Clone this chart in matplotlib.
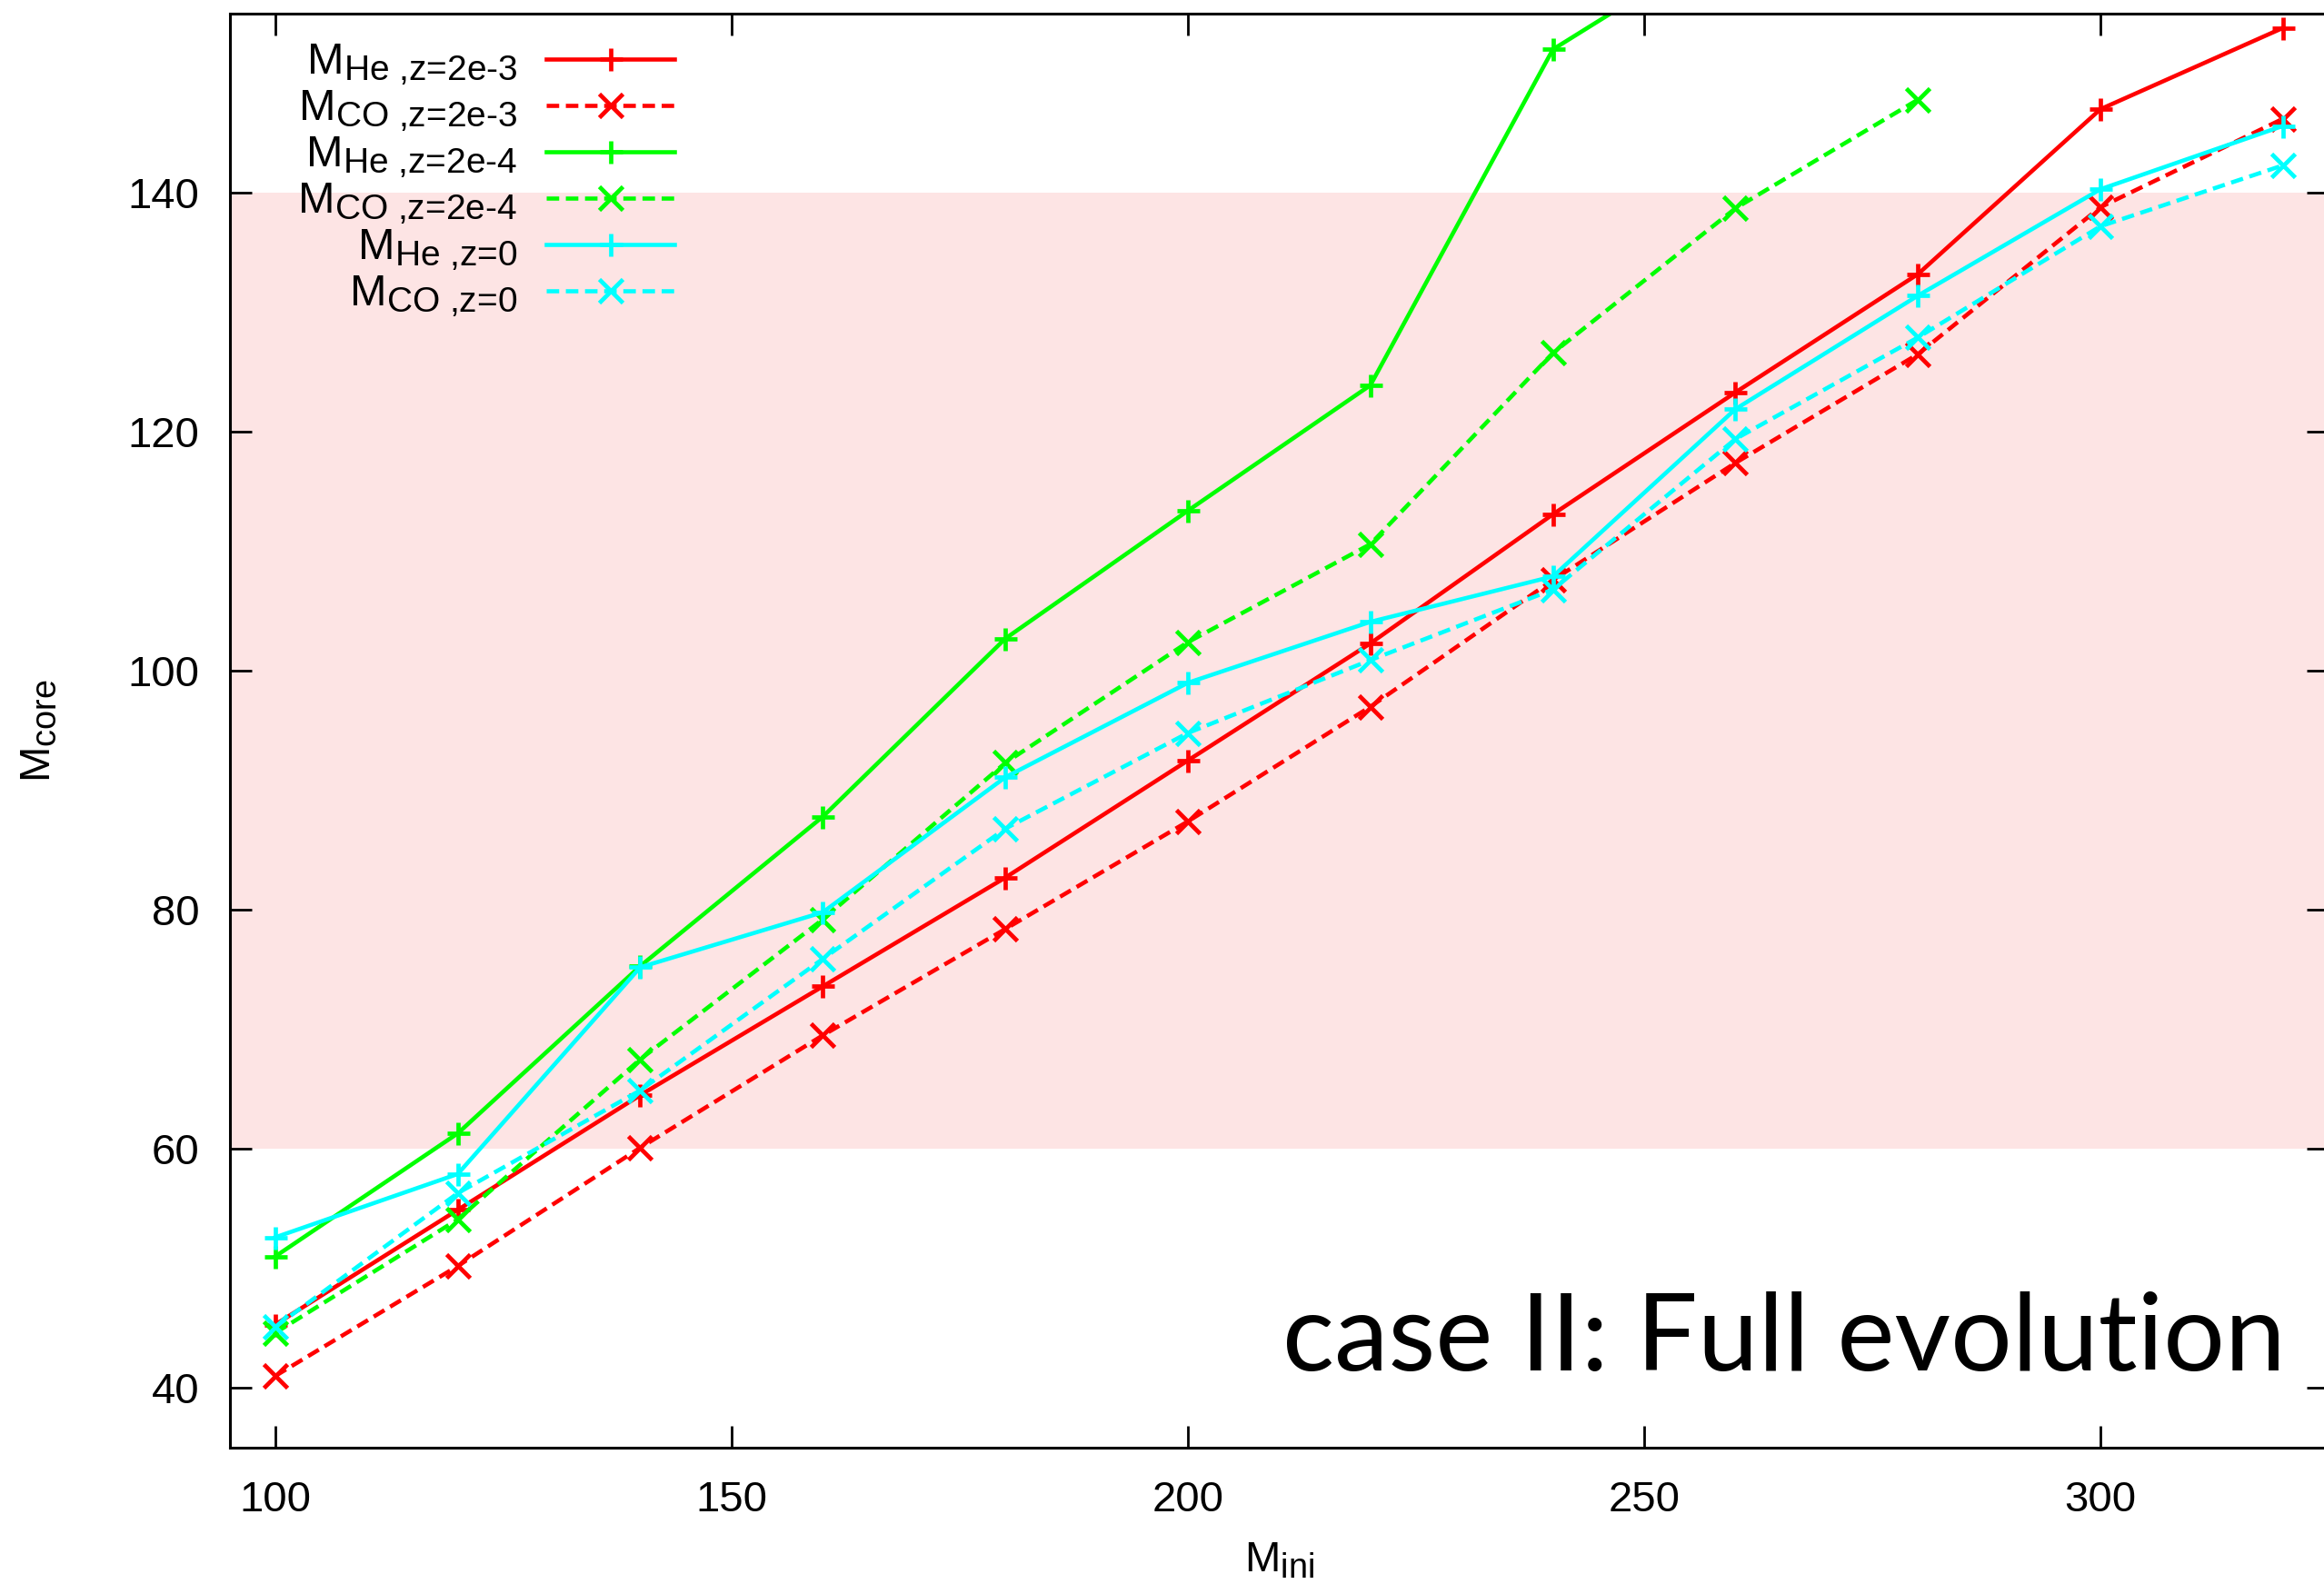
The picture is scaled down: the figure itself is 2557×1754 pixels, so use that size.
import matplotlib
matplotlib.use("Agg")
import matplotlib._mathtext as mathtext_internals
import matplotlib.pyplot as plt

# gnuplot sets subscripts at ~0.8 of the base size
mathtext_internals.SHRINK_FACTOR = 0.8

plt.rcParams["font.family"] = ["Liberation Sans", "DejaVu Sans"]
plt.rcParams["mathtext.fontset"] = "custom"
plt.rcParams["mathtext.rm"] = "Liberation Sans"
plt.rcParams["mathtext.it"] = "Liberation Sans:italic"
plt.rcParams["mathtext.bf"] = "Liberation Sans:bold"

# initial mass grid
m_ini = [100, 120, 140, 160, 180, 200, 220, 240, 260, 280, 300, 320]

# core masses
he_z2e3 = [45.3, 54.9, 64.5, 73.6, 82.7, 92.5, 102.3, 113.1, 123.3, 133.2, 147.0, 153.8]
co_z2e3 = [41.0, 50.2, 60.1, 69.5, 78.4, 87.4, 97.0, 107.6, 117.4, 126.5, 138.8, 146.2]
he_z2e4 = [51.0, 61.3, 75.3, 87.8, 102.7, 113.4, 123.9, 152.0, 161.5]
co_z2e4 = [44.6, 54.1, 67.5, 79.2, 92.3, 102.4, 110.6, 126.6, 138.7, 147.8]
he_z0 = [52.6, 57.9, 75.2, 79.8, 91.1, 99.0, 104.1, 107.9, 121.9, 131.4, 140.3, 145.6]
co_z0 = [45.1, 56.3, 64.9, 75.9, 86.8, 94.8, 100.9, 106.8, 119.4, 127.9, 137.2, 142.3]

band = (60, 140)

labels = [
    r"M$_{\text{He ,z=2e-3}}$",
    r"M$_{\text{CO ,z=2e-3}}$",
    r"M$_{\text{He ,z=2e-4}}$",
    r"M$_{\text{CO ,z=2e-4}}$",
    r"M$_{\text{He ,z=0}}$",
    r"M$_{\text{CO ,z=0}}$",
]

RED, GREEN, CYAN = "#ff0000", "#00ff00", "#00ffff"
DASH = (0, (3.0, 1.6))

fig = plt.figure(figsize=(25.57, 17.54), dpi=100)
ax = fig.add_axes([0.0988, 0.0918, 0.9032, 0.8997])

ax.axhspan(band[0], band[1], color="#fde4e4", lw=0, zorder=0)

series = [
    (m_ini, he_z2e3, RED, "-", "+"),
    (m_ini, co_z2e3, RED, DASH, "x"),
    (m_ini[:len(he_z2e4)], he_z2e4, GREEN, "-", "+"),
    (m_ini[:len(co_z2e4)], co_z2e4, GREEN, DASH, "x"),
    (m_ini, he_z0, CYAN, "-", "+"),
    (m_ini, co_z0, CYAN, DASH, "x"),
]
for (xs, ys, c, ls, mk), lab in zip(series, labels):
    ax.plot(xs, ys, color=c, linestyle=ls, lw=3.3, marker=mk,
            markersize=18 if mk == "+" else 19, markeredgewidth=3.4, label=lab)

ax.set_xlim(95, 325)
ax.set_ylim(35, 155)
ax.set_xticks([100, 150, 200, 250, 300])
ax.set_yticks([40, 60, 80, 100, 120, 140])

ax.tick_params(direction="in", length=17, width=2, top=True, right=True,
               labelsize=34)
ax.tick_params(axis="y", pad=24)
ax.tick_params(axis="x", pad=26)
for s in ax.spines.values():
    s.set_linewidth(2.2)

ax.set_xlabel(r"M$_{\rm ini}$", fontsize=34, labelpad=16)
ax.set_ylabel(r"M$_{\rm core}$", fontsize=34, labelpad=54)

ax.legend(loc="upper right", bbox_to_anchor=(0.212, 0.980), frameon=False,
          markerfirst=False, fontsize=35, handlelength=2.9, handletextpad=0.66,
          labelspacing=0.02, borderpad=0, borderaxespad=0)

fig.text(0.9835, 0.1403, "case II: Full evolution", ha="right", va="baseline",
         fontsize=86, family="Lato")

fig.savefig("out.png", dpi=100)
